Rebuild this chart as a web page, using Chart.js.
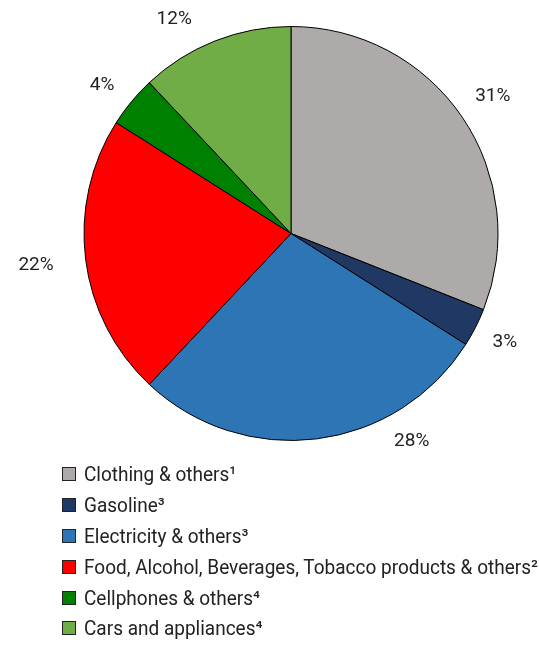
<!DOCTYPE html>
<html>
<head>
<meta charset="utf-8">
<script src="https://cdn.jsdelivr.net/npm/chart.js@4/dist/chart.umd.min.js"></script>
<style>
  body { margin: 0; background: #fff; font-family: "Liberation Sans Narrow", "Roboto", sans-serif; }
  #wrap { position: relative; width: 539px; height: 652px; }
  #box { position: absolute; left: 0; top: 0; width: 539px; height: 460px; }
  #legend { position: absolute; left: 62px; top: 459px; color: #222; font-size: 20px; }
  .row { height: 30.8px; display: flex; align-items: center; white-space: nowrap; }
  .sw { width: 12px; height: 12px; border: 1px solid #222; margin-right: 8px; flex: none; }
  .tx { display: inline-block; transform: scaleX(0.95); transform-origin: left center; }
</style>
</head>
<body>
<div id="wrap">
  <div id="box"><canvas id="myChart"></canvas></div>
  <div id="legend"></div>
</div>
<script>
// categories and shares (%)
var labels = ['Clothing & others¹', 'Gasoline³', 'Electricity & others³',
  'Food, Alcohol, Beverages, Tobacco products & others²', 'Cellphones & others⁴', 'Cars and appliances⁴'];
var shares = [31, 3, 28, 22, 4, 12];
var sliceColors = ['#AEAAAA', '#203864', '#2E75B6', '#FF0000', '#008000', '#70AD47'];

// percentage labels outside the pie
var outsideLabels = {
  id: 'outsideLabels',
  afterDatasetsDraw: function(chart, args, opts) {
    var ctx = chart.ctx;
    var meta = chart.getDatasetMeta(0);
    ctx.save();
    ctx.font = '19px "Liberation Sans Narrow", Roboto, sans-serif';
    ctx.fillStyle = '#222';
    ctx.textAlign = 'center';
    ctx.textBaseline = 'middle';
    meta.data.forEach(function(arc, i) {
      var p = arc.getProps(['x', 'y', 'startAngle', 'endAngle', 'outerRadius'], true);
      var a = (p.startAngle + p.endAngle) / 2 + (opts.nudge[i] || 0) * Math.PI / 180;
      var r = p.outerRadius + (opts.gap[i] || 33);
      ctx.fillText(shares[i] + '%', p.x + Math.cos(a) * r, p.y + Math.sin(a) * r);
    });
    ctx.restore();
  }
};

var ctx = document.getElementById('myChart').getContext('2d');
var myChart = new Chart(ctx, {
  type: 'pie',
  data: {
    labels: labels,
    datasets: [{
      data: shares,
      backgroundColor: sliceColors,
      borderColor: '#000',
      borderWidth: 1
    }]
  },
  options: {
    responsive: true,
    maintainAspectRatio: false,
    animation: false,
    layout: { padding: { left: 83, right: 40, top: 26, bottom: 19 } },
    plugins: {
      legend: { display: false },
      tooltip: { enabled: false },
      outsideLabels: { nudge: { 2: -23, 4: -1.5, 5: -7 }, gap: { 0: 37, 3: 50, 5: 37 } }
    }
  },
  plugins: [outsideLabels]
});

// legend as a single column under the pie
var legend = document.getElementById('legend');
labels.forEach(function(l, i) {
  var row = document.createElement('div');
  row.className = 'row';
  row.innerHTML = '<span class="sw" style="background:' + sliceColors[i] + '"></span><span class="tx">' + l + '</span>';
  legend.appendChild(row);
});
</script>
</body>
</html>
